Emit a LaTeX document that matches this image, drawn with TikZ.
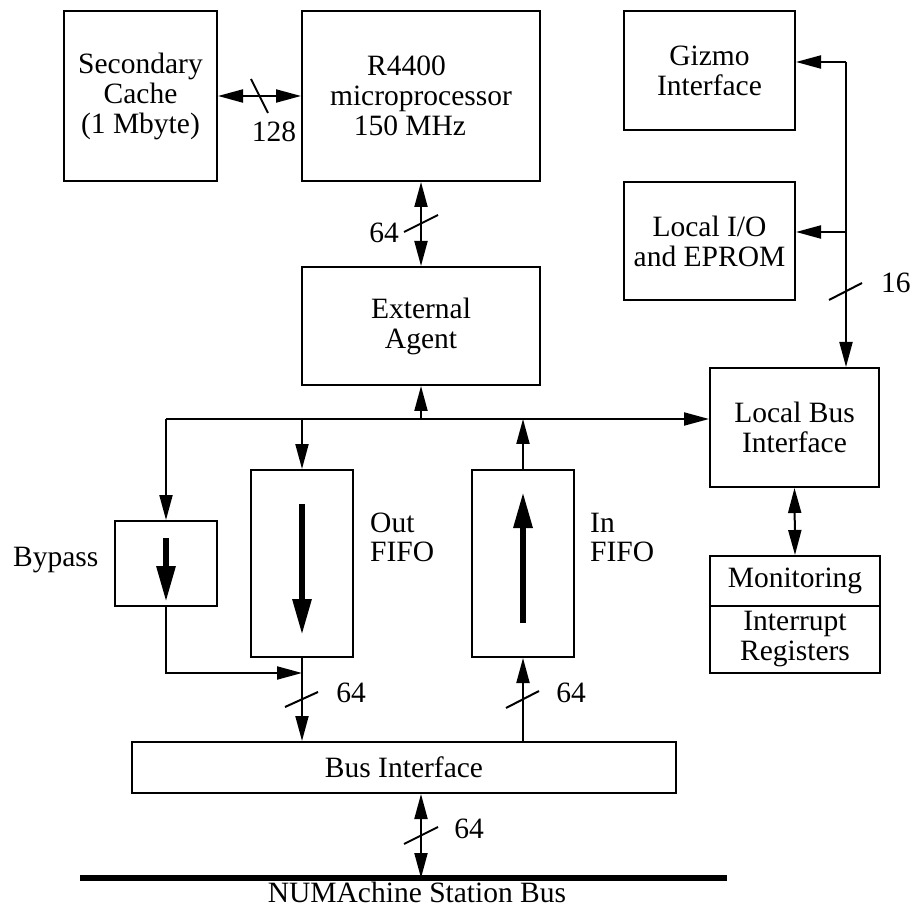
\documentclass[tikz,border=0pt]{standalone}
\usepackage{fontspec}
\setmainfont{Liberation Serif}
\usetikzlibrary{arrows.meta}
\begin{document}
\begin{tikzpicture}[x=1pt,y=-1pt,
  every node/.style={font=\fontsize{29.5}{30}\selectfont},
  box/.style={draw, line width=2pt, inner sep=0pt, align=center},
  conn/.style={line width=2pt},
  arr/.style={conn, -{Triangle[length=25pt,width=13pt]}},
  darr/.style={conn, {Triangle[length=25pt,width=13pt]}-{Triangle[length=25pt,width=13pt]}},
  fat/.style={line width=6pt, -{Triangle[length=36pt,width=18pt]}},
  tick/.style={line width=2pt},
  lbl/.style={inner sep=0pt}]
\useasboundingbox (0,0) rectangle (911,909);

% boxes
\node[box, minimum width=153pt, minimum height=170pt] (sc) at (140.5,96) {Secondary\\Cache\\(1 Mbyte)};
\node[box, minimum width=238pt, minimum height=170pt] (r44) at (421,96) {R4400\hspace*{29pt}\\microprocessor\\150 MHz\hspace*{22pt}};
\node[box, minimum width=238pt, minimum height=118pt] (ea) at (421,326) {External\\Agent};
\node[box, minimum width=171pt, minimum height=119pt] (giz) at (709.5,70.5) {Gizmo\\Interface};
\node[box, minimum width=171pt, minimum height=118pt] (lio) at (709.5,241) {Local I/O\\and EPROM};
\node[box, minimum width=169pt, minimum height=119pt] (lbi) at (794.5,427.5) {Local Bus\\Interface};
\node[box, minimum width=170pt, minimum height=50pt] (mon) at (795,581) {Monitoring};
\node[box, minimum width=170pt, minimum height=67pt] (irr) at (795,639.5) {Interrupt\\Registers};
\node[box, minimum width=102pt, minimum height=85pt] (byp) at (166,563.5) {};
\node[box, minimum width=102pt, minimum height=187pt] (ofifo) at (302,563.5) {};
\node[box, minimum width=102pt, minimum height=187pt] (ififo) at (523,563.5) {};
\node[box, minimum width=544pt, minimum height=51pt] (bi) at (404,767.5) {Bus Interface};

% labels
\node[lbl, anchor=base west] (bypl) at (13,566) {Bypass};
\node[lbl, anchor=base west] (outl1) at (370,532) {Out};
\node[lbl, anchor=base west] (outl2) at (370,561) {FIFO};
\node[lbl, anchor=base west] (inl1) at (590,532) {In};
\node[lbl, anchor=base west] (inl2) at (590,561) {FIFO};
\node[lbl, anchor=base] (busl) at (417,902) {NUMAchine Station Bus};
\node[lbl, anchor=base] (w128) at (274,142) {128};
\node[lbl, anchor=base] (w64a) at (384,243) {64};
\node[lbl, anchor=base] (w64b) at (351,702) {64};
\node[lbl, anchor=base] (w64c) at (571,702) {64};
\node[lbl, anchor=base] (w64d) at (469,838) {64};
\node[lbl, anchor=base west] (w16) at (881,293) {16};

% coordinates
\coordinate (bl) at (166,419);
\coordinate (mj) at (302,673);
\coordinate (sb) at (421,878);
\coordinate (busL) at (80,878);
\coordinate (busR) at (727,878);
\coordinate (gz) at (846,62);
\coordinate (lj) at (846,232);

% station bus
\draw[line width=6pt] (busL) -- (busR);

% connectors
\draw[darr] (sc.east) -- (r44.west);
\draw[darr] (r44.south) -- (ea.north);
\draw[arr] (bl) -- (lbi.west |- bl);
\draw[arr] (ea.south |- bl) -- (ea.south);
\draw[arr] (ofifo.north |- bl) -- (ofifo.north);
\draw[arr] (ififo.north) -- (ififo.north |- bl);
\draw[arr] (bl) -- (byp.north);
\draw[arr] (byp.south) |- (mj);
\draw[arr] (ofifo.south) -- (ofifo.south |- bi.north);
\draw[arr] (ififo.south |- bi.north) -- (ififo.south);
\draw[darr] (sb |- bi.south) -- (sb);
\draw[darr] (lbi.south) -- (mon.north);
\draw[arr] (gz) -- (giz.east |- gz);
\draw[arr] (lj) -- (lio.east |- lj);
\draw[arr] (gz) -- (gz |- lbi.north);

% fat arrows in queues
\draw[fat] (166,538) -- (166,602);
\draw[fat] (302,504) -- (302,635);
\draw[fat] (523,623) -- (523,492);

% bus width ticks
\draw[tick] (251,79) -- (268,113);
\draw[tick] (404,232) -- (438,215);
\draw[tick] (285,707) -- (318,692);
\draw[tick] (506,708) -- (539,691);
\draw[tick] (404,844) -- (438,827);
\draw[tick] (829,300) -- (862,283);
\end{tikzpicture}
\end{document}
